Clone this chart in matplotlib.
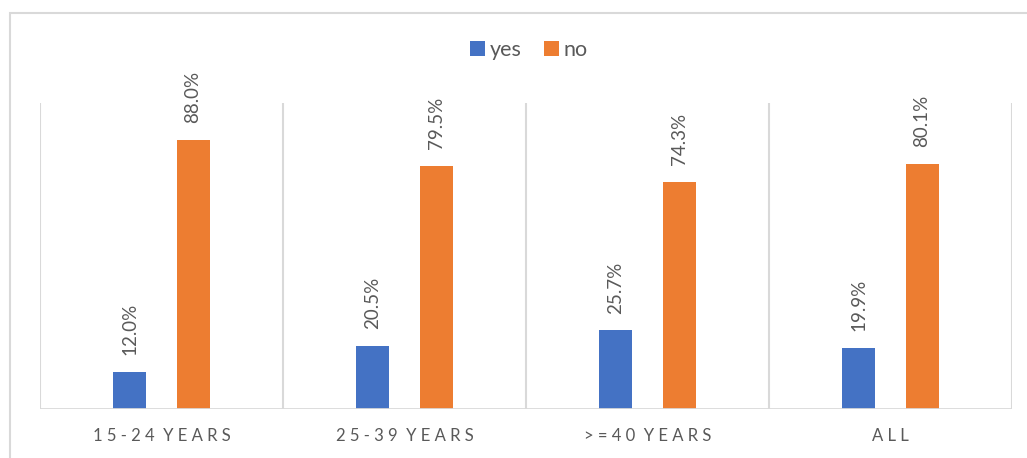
import numpy as np
import matplotlib.pyplot as plt
from matplotlib.patches import Rectangle

plt.rcParams['font.family'] = ['Lato', 'DejaVu Sans']

categories = ['15-24 YEARS', '25-39 YEARS', '>=40 YEARS', 'ALL']
yes_pct = [12.0, 20.5, 25.7, 19.9]
no_pct = [88.0, 79.5, 74.3, 80.1]

blue = '#4472C4'
orange = '#ED7D31'
grid_col = '#D9D9D9'
text_col = '#595959'

W, H = 1027, 458
fig = plt.figure(figsize=(W / 100, H / 100), dpi=100)

# outer chart border (runs off the right and bottom edges)
fig.patches.append(Rectangle((10 / W, -0.05), 1.1, 1 - 13 / H + 0.05,
                             transform=fig.transFigure, fill=False,
                             edgecolor=grid_col, linewidth=1.5, clip_on=False))

ax = fig.add_axes([40 / W, 1 - 409 / H, (1012 - 40) / W, (409 - 103) / H])

x = np.arange(len(categories))
bw = 0.136
off = 0.13
b1 = ax.bar(x - off, yes_pct, bw, color=blue, label='yes')
b2 = ax.bar(x + off, no_pct, bw, color=orange, label='no')

for bars, vals in ((b1, yes_pct), (b2, no_pct)):
    for rect, v in zip(bars, vals):
        ax.text(rect.get_x() + rect.get_width() / 2, v + 5.5, f'{v:.1f}%',
                rotation=90, ha='center', va='bottom', fontsize=13.5,
                color=text_col)

ax.set_xlim(-0.5, len(categories) - 0.5)
ax.set_ylim(0, 100)

# category separators
for b in np.arange(len(categories) + 1) - 0.5:
    ax.axvline(b, color=grid_col, linewidth=1.5, zorder=0)

for s in ax.spines.values():
    s.set_visible(False)
ax.axhline(0, color=grid_col, linewidth=2, zorder=3)

ax.set_yticks([])
ax.set_xticks(x)
ax.set_xticklabels([' '.join(c).replace('   ', '  ') for c in categories],
                   fontsize=12, color=text_col)
ax.tick_params(axis='x', length=0, pad=14)

fig.legend(handles=[b1, b2], loc='center', bbox_to_anchor=(0.515, 1 - 50 / H),
           ncol=2, frameon=False, fontsize=15.5, handlelength=0.7,
           handleheight=0.7, handletextpad=0.25, columnspacing=1.0,
           labelcolor=text_col)

fig.savefig('out.png', dpi=100)
